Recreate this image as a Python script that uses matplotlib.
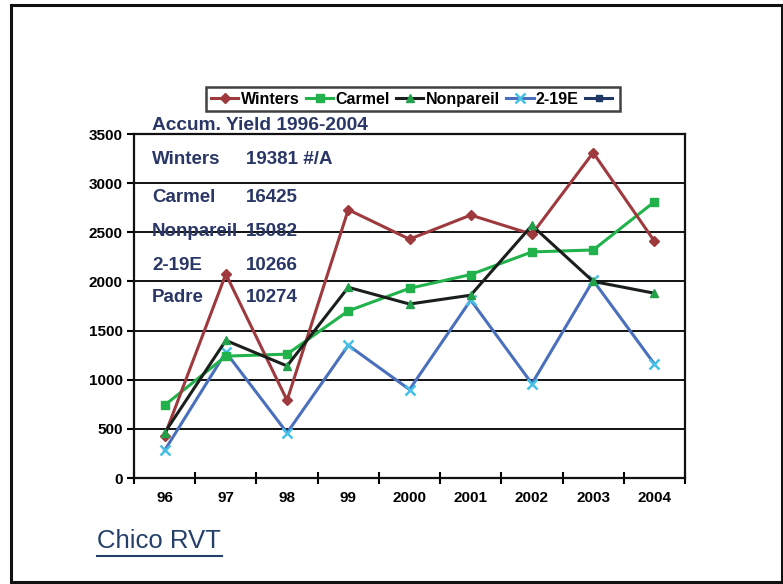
import matplotlib
matplotlib.use("Agg")
import matplotlib.pyplot as plt
from matplotlib.lines import Line2D
from matplotlib.patches import Rectangle

years = ["96", "97", "98", "99", "2000", "2001", "2002", "2003", "2004"]
winters = [430, 2075, 790, 2730, 2430, 2675, 2480, 3310, 2410]
carmel = [740, 1240, 1260, 1700, 1930, 2070, 2300, 2320, 2810]
nonpareil = [460, 1400, 1140, 1940, 1770, 1860, 2570, 2000, 1880]
e219 = [280, 1280, 460, 1350, 900, 1810, 960, 2010, 1160]

accum_names = ["Winters", "Carmel", "Nonpareil", "2-19E", "Padre"]
accum_values = ["19381 #/A", "16425", "15082", "10266", "10274"]

label_font = "Liberation Sans"
navy = "#2a3766"
fig = plt.figure(figsize=(7.83, 5.84), dpi=100)
fig.patch.set_facecolor("white")

# outer slide frame
fig.patches.append(Rectangle((11 / 783, 1 - 582 / 584), (782 - 11) / 783, (582 - 5) / 584,
                             transform=fig.transFigure, fill=False, edgecolor="#111111",
                             linewidth=2.2))

ax = fig.add_axes([134 / 783, 1 - 478 / 584, (685 - 134) / 783, (478 - 134) / 584])
x = list(range(len(years)))

ax.plot(x, winters, color="#9e3a3e", lw=2.2, marker="D", ms=5,
        mfc="#9e3a3e", mec="#9e3a3e", label="Winters", zorder=4)
ax.plot(x, carmel, color="#22b24c", lw=2.2, marker="s", ms=6,
        mfc="#22b24c", mec="#22b24c", label="Carmel", zorder=3)
ax.plot(x, nonpareil, color="#1a1f1c", lw=2.2, marker="^", ms=6,
        mfc="#22a04a", mec="#22a04a", label="Nonpareil", zorder=5)
ax.plot(x, e219, color="#4a70bd", lw=2.2, marker="x", ms=7, mew=1.8,
        mec="#45c0e6", label="2-19E", zorder=2)
padre = Line2D([], [], color="#1f3864", lw=2.2, marker="s", ms=4)

ax.set_xlim(-0.5, len(years) - 0.5)
ax.set_ylim(0, 3500)
ax.set_yticks(range(0, 3501, 500))
ax.set_xticks([i - 0.5 for i in range(len(years) + 1)])
ax.set_xticklabels([])
ax.set_xticks(x, minor=True)
ax.set_xticklabels(years, minor=True)
ax.tick_params(axis="x", which="minor", length=0, pad=9)
ax.tick_params(axis="x", which="major", direction="inout", length=8, width=1.5)
ax.tick_params(axis="y", direction="out", length=5, width=1.5, pad=3)
for lab in ax.get_xticklabels(minor=True) + ax.get_yticklabels():
    lab.set_fontfamily(label_font)
    lab.set_fontweight("bold")
    lab.set_fontsize(11)
ax.grid(axis="y", color="#111111", lw=1.4)
ax.set_axisbelow(True)
for s in ax.spines.values():
    s.set_linewidth(1.6)
    s.set_color("#111111")

leg = fig.legend(handles=ax.get_lines() + [padre],
                 labels=["Winters", "Carmel", "Nonpareil", "2-19E", ""],
                 loc="center", bbox_to_anchor=(413 / 783, 1 - 99 / 584), ncol=5,
                 frameon=True, fancybox=False, handlelength=1.7, handletextpad=0.15,
                 columnspacing=0.4, borderpad=0.3,
                 prop={"family": label_font, "weight": "bold", "size": 11.5})
leg.get_frame().set_edgecolor("#111111")
leg.get_frame().set_linewidth(1.8)

fig.text(152 / 783, 1 - 126 / 584, "Accum. Yield 1996-2004", color=navy,
         fontsize=13.8, fontweight="bold", family="Liberation Sans", va="center")
rows_y = [160, 197, 232, 266, 298]
for nm, val, yy in zip(accum_names, accum_values, rows_y):
    fig.text(152 / 783, 1 - yy / 584, nm, color=navy, fontsize=13.5,
             fontweight="bold", family="Liberation Sans", va="center")
    fig.text(246 / 783, 1 - yy / 584, val, color=navy, fontsize=13.5,
             fontweight="bold", family="Liberation Sans", va="center")

fig.text(97 / 783, 1 - 541 / 584, "Chico RVT", color="#24406a", fontsize=18.5,
         family="Liberation Sans", va="center")
fig.add_artist(Line2D([97 / 783, 222 / 783], [1 - 556 / 584, 1 - 556 / 584],
                      transform=fig.transFigure, color="#24406a", lw=1.5))

fig.savefig("out.png", dpi=100, facecolor="white")
